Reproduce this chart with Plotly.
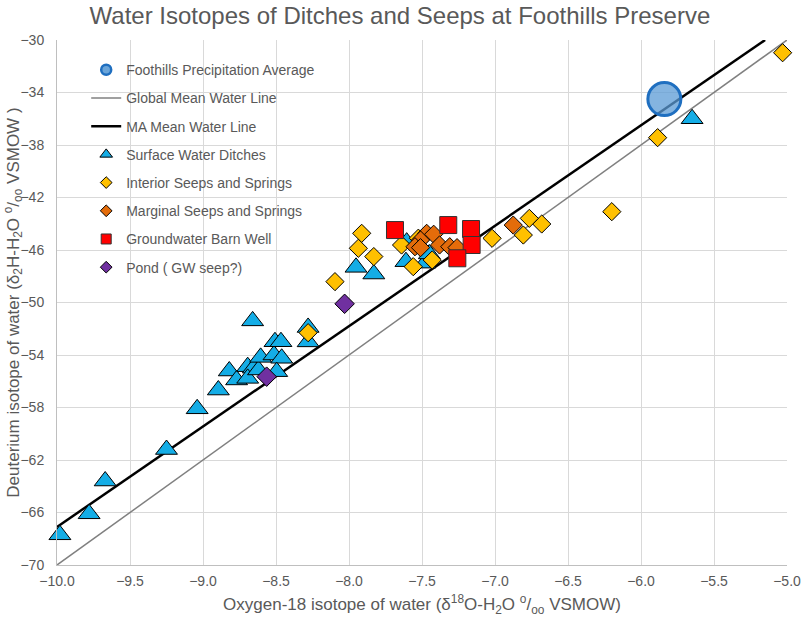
import plotly.graph_objects as go

# --- data (d18O, d2H) ---
precip_x = [-5.84]
precip_y = [-34.5]

gmwl_x = [-10.0, -5.0]
gmwl_y = [-70.0, -30.0]

ma_x = [-10.0, -5.15]
ma_y = [-67.1, -30.0]

ditch_x = [-5.65, -9.98, -9.78, -9.67, -9.25, -9.04, -8.895, -8.82, -8.77, -8.694,
           -8.655, -8.694, -8.62, -8.605, -8.514, -8.461, -8.507, -8.466, -8.495, -8.66,
           -8.28, -8.28, -7.952, -7.83, -7.61, -7.605, -7.48, -7.45]
ditch_y = [-36.0, -67.7, -66.1, -63.6, -61.2, -58.1, -56.67, -55.22, -55.9, -54.89,
           -55.0, -55.78, -55.14, -54.18, -54.0, -54.25, -52.99, -52.99, -55.27, -51.4,
           -51.9, -53.0, -47.32, -47.83, -46.89, -45.4, -47.0, -46.3]

interior_x = [-5.03, -5.886, -6.20, -6.68, -6.765, -6.806, -7.02, -7.43, -7.56, -7.64,
              -7.525, -7.83, -7.936, -7.913, -8.096, -8.28]
interior_y = [-30.97, -37.44, -43.08, -44.02, -43.59, -44.86, -45.11, -46.76, -47.27, -45.62,
              -45.1, -46.5, -45.87, -44.73, -48.41, -52.3]

marginal_x = [-6.875, -7.468, -7.42, -7.51, -7.548, -7.51, -7.38, -7.31, -7.26]
marginal_y = [-44.1, -44.73, -44.8, -45.24, -45.75, -45.82, -45.62, -45.75, -45.82]

well_x = [-7.685, -7.32, -7.164, -7.16, -7.258]
well_y = [-44.48, -44.1, -44.4, -45.62, -46.63]

pond_x = [-8.03, -8.564]
pond_y = [-50.1, -55.65]

grey_text = '#595959'
font_family = 'Liberation Sans, Arial, sans-serif'

# name, symbol, fill, outline, size on chart, outline width, legend size
series = [
    ('Surface Water Ditches', ditch_x, ditch_y, 'triangle-up', '#14ADE6', 'black', 19, 1, 11),
    ('Interior Seeps and Springs', interior_x, interior_y, 'diamond', '#FFC000', 'black', 14, 1, 9),
    ('Marginal Seeps and Springs', marginal_x, marginal_y, 'diamond', '#E46C0A', 'black', 14, 1, 9),
    ('Groundwater Barn Well', well_x, well_y, 'square', '#FF0000', '#333333', 17, 1, 10),
    ('Pond ( GW seep?)', pond_x, pond_y, 'diamond', '#7030A0', 'black', 15, 1, 9),
]

fig = go.Figure()

# lines first so markers sit on top
fig.add_trace(go.Scatter(x=gmwl_x, y=gmwl_y, mode='lines', name='Global Mean Water Line',
                         line=dict(color='#808080', width=1.5), legendrank=2, legendgroup='g2'))
fig.add_trace(go.Scatter(x=ma_x, y=ma_y, mode='lines', name='MA Mean Water Line',
                         line=dict(color='black', width=2.5), legendrank=3, legendgroup='g3'))

for i, (name, xs, ys, sym, fill, edge, size, lw, lsize) in enumerate(series):
    fig.add_trace(go.Scatter(x=xs, y=ys, mode='markers', name=name, showlegend=False,
                             marker=dict(symbol=sym, size=size, color=fill,
                                         line=dict(color=edge, width=lw)),
                             cliponaxis=False))
    # small marker for the legend only
    fig.add_trace(go.Scatter(x=[None], y=[None], mode='markers', name=name,
                             marker=dict(symbol=sym, size=lsize, color=fill,
                                         line=dict(color=edge, width=1)),
                             legendrank=4 + i, legendgroup='g%d' % (4 + i)))

fig.add_trace(go.Scatter(x=precip_x, y=precip_y, mode='markers', name='Foothills Precipitation Average',
                         showlegend=False,
                         marker=dict(symbol='circle', size=33, color='rgba(91,155,213,0.75)',
                                     line=dict(color='#1F6FC0', width=3)),
                         cliponaxis=False))
fig.add_trace(go.Scatter(x=[None], y=[None], mode='markers', name='Foothills Precipitation Average',
                         marker=dict(symbol='circle', size=10, color='rgba(91,155,213,0.9)',
                                     line=dict(color='#1F6FC0', width=2.5)),
                         legendrank=1, legendgroup='g1'))

fig.update_layout(
    width=803, height=617,
    margin=dict(l=57, r=16, t=40, b=52),
    paper_bgcolor='white', plot_bgcolor='white',
    font=dict(family=font_family, color=grey_text, size=14),
    title=dict(text='Water Isotopes of Ditches and Seeps at Foothills Preserve',
               x=0.498, xref='container', xanchor='center', y=0.975, yanchor='middle',
               font=dict(size=24, color=grey_text)),
    showlegend=True,
    legend=dict(x=0.04, y=0.973, xanchor='left', yanchor='top', bgcolor='rgba(0,0,0,0)',
                font=dict(size=14, color=grey_text), tracegroupgap=7),
    xaxis=dict(range=[-10, -5], dtick=0.5, tick0=-10, tickformat='.1f', automargin=False,
               showgrid=True, gridcolor='#D9D9D9', gridwidth=1, zeroline=False,
               showline=True, linecolor='#BFBFBF', ticks='outside', ticklen=3, tickcolor='white',
               title=dict(text='Oxygen-18 isotope of water (δ<sup>18</sup>O-H<sub>2</sub>O <sup>o</sup>/<sub>oo</sub> VSMOW)',
                          font=dict(size=17, color=grey_text), standoff=10)),
    yaxis=dict(range=[-70, -30], dtick=4, tick0=-70, automargin=False,
               showgrid=True, gridcolor='#D9D9D9', gridwidth=1, zeroline=False,
               showline=True, linecolor='#BFBFBF', ticks='outside', ticklen=9, tickcolor='white'),
    annotations=[dict(text='Deuterium isotope of water (δ<sub>2</sub>H-H<sub>2</sub>O <sup>o</sup>/<sub>oo</sub> VSMOW )',
                      xref='paper', yref='paper', x=-0.06, y=0.5, xanchor='center', yanchor='middle',
                      textangle=-90, showarrow=False, font=dict(size=17, color=grey_text))],
)

# drop the page's default body margin so the figure sits at the window's corner
fig.write_html('out.html', config={'displayModeBar': False},
               post_script="document.body.style.margin='0';")
